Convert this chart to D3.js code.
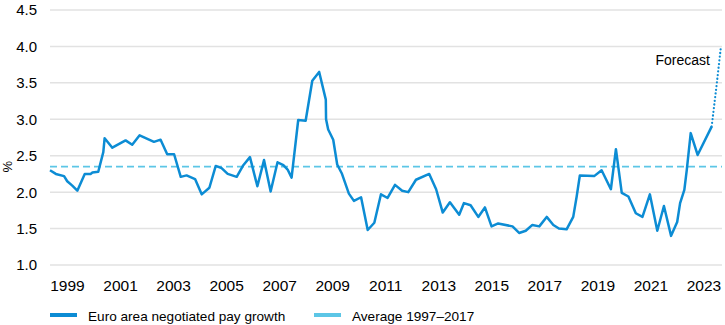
<!DOCTYPE html>
<html>
<head>
<meta charset="utf-8">
<script src="https://cdn.jsdelivr.net/npm/d3@7"></script>
<style>
  body { margin: 0; background: #fff; }
  svg text { font-family: "Liberation Sans", Arial, sans-serif; fill: #000; }
</style>
</head>
<body>
<div id="chart"></div>
<script>
// negotiated pay growth, decimal year / % y-o-y
const dates = [
  1998.34, 1998.56, 1998.87, 1998.99, 1999.18, 1999.37, 1999.65, 1999.87, 1999.94, 2000.16,
  2000.35, 2000.40, 2000.69, 2001.19, 2001.44, 2001.72, 2002.26, 2002.51, 2002.76, 2003.02,
  2003.27, 2003.49, 2003.81, 2004.06, 2004.35, 2004.59, 2004.81, 2005.04, 2005.38, 2005.63,
  2005.88, 2006.16, 2006.41, 2006.66, 2006.92, 2007.14, 2007.30, 2007.45, 2007.70, 2007.98,
  2008.23, 2008.49, 2008.74, 2008.75, 2008.83, 2009.02, 2009.17, 2009.34, 2009.61, 2009.80,
  2010.07, 2010.32, 2010.57, 2010.82, 2011.07, 2011.35, 2011.62, 2011.85, 2012.14, 2012.64,
  2012.90, 2013.15, 2013.42, 2013.77, 2013.95, 2014.20, 2014.49, 2014.74, 2014.99, 2015.24,
  2015.78, 2016.03, 2016.28, 2016.53, 2016.79, 2017.07, 2017.32, 2017.53, 2017.82, 2018.07,
  2018.20, 2018.32, 2018.86, 2019.14, 2019.49, 2019.68, 2019.90, 2020.15, 2020.43, 2020.68,
  2020.96, 2021.24, 2021.49, 2021.76, 2021.99, 2022.10, 2022.26, 2022.35, 2022.50, 2022.76,
  2023.29
];
const payGrowth = [
  2.30, 2.25, 2.22, 2.15, 2.09, 2.02, 2.25, 2.25, 2.27, 2.28,
  2.55, 2.74, 2.61, 2.71, 2.65, 2.78, 2.69, 2.72, 2.52, 2.52,
  2.21, 2.23, 2.18, 1.97, 2.06, 2.36, 2.33, 2.25, 2.21, 2.37,
  2.48, 2.08, 2.44, 2.01, 2.41, 2.37, 2.31, 2.20, 2.99, 2.98,
  3.53, 3.65, 3.27, 3.00, 2.86, 2.72, 2.38, 2.26, 1.98, 1.88,
  1.93, 1.48, 1.58, 1.97, 1.92, 2.10, 2.02, 2.00, 2.17, 2.25,
  2.04, 1.72, 1.86, 1.69, 1.85, 1.82, 1.66, 1.79, 1.53, 1.57,
  1.53, 1.44, 1.47, 1.55, 1.53, 1.66, 1.55, 1.50, 1.49, 1.66,
  1.94, 2.23, 2.22, 2.30, 2.04, 2.59, 1.99, 1.94, 1.71, 1.66,
  1.97, 1.47, 1.81, 1.40, 1.59, 1.85, 2.03, 2.30, 2.81, 2.51,
  2.90
];

// forecast path starts from the last observed quarter
const forecastDates = [2023.29, 2023.47, 2023.64];
const forecastValues = [2.90, 3.45, 4.00];

const average = 2.35;
const yTicks = [1.0, 1.5, 2.0, 2.5, 3.0, 3.5, 4.0, 4.5];
const xTicks = [1999, 2001, 2003, 2005, 2007, 2009, 2011, 2013, 2015, 2017, 2019, 2021, 2023];
const legendLabels = ["Euro area negotiated pay growth", "Average 1997\u20132017"];

const width = 725, height = 325;
const plotLeft = 50, plotRight = 722, plotTop = 10, plotBottom = 265;
const lineBlue = "#0c8cd4";
const avgBlue = "#5cc6e6";

const svg = d3.select("#chart").append("svg")
  .attr("width", width)
  .attr("height", height);

const x = d3.scaleLinear().domain([1998.34, 2023.68]).range([plotLeft, plotRight]);
const y = d3.scaleLinear().domain([1.0, 4.5]).range([plotBottom, plotTop]);

// horizontal gridlines + y labels
svg.append("g")
  .selectAll("line")
  .data(yTicks)
  .join("line")
  .attr("x1", plotLeft)
  .attr("x2", plotRight)
  .attr("y1", d => y(d))
  .attr("y2", d => y(d))
  .attr("stroke", "#e2e2e2")
  .attr("stroke-width", 1.5);

svg.append("g")
  .selectAll("text")
  .data(yTicks)
  .join("text")
  .attr("x", 37)
  .attr("y", d => y(d))
  .attr("dy", "0.36em")
  .attr("text-anchor", "end")
  .style("font-size", "15px")
  .text(d => d.toFixed(1));

svg.append("text")
  .attr("transform", "translate(12," + y(average) + ") rotate(-90)")
  .attr("text-anchor", "middle")
  .style("font-size", "13px")
  .text("%");

// year labels
svg.append("g")
  .selectAll("text")
  .data(xTicks)
  .join("text")
  .attr("x", d => x(d))
  .attr("y", 291)
  .attr("text-anchor", "middle")
  .style("font-size", "15.5px")
  .text(d => d);

// long-run average
svg.append("line")
  .attr("x1", plotLeft)
  .attr("x2", plotRight)
  .attr("y1", y(average))
  .attr("y2", y(average))
  .attr("stroke", avgBlue)
  .attr("stroke-width", 1.8)
  .attr("stroke-dasharray", "7,4");

const line = d3.line()
  .x(d => x(d[0]))
  .y(d => y(d[1]));

svg.append("path")
  .attr("d", line(d3.zip(dates, payGrowth)))
  .attr("fill", "none")
  .attr("stroke", lineBlue)
  .attr("stroke-width", 2.5)
  .attr("stroke-linejoin", "round");

svg.append("path")
  .attr("d", line(d3.zip(forecastDates, forecastValues)))
  .attr("fill", "none")
  .attr("stroke", lineBlue)
  .attr("stroke-width", 2.2)
  .attr("stroke-linecap", "round")
  .attr("stroke-dasharray", "0.1,3.6");

svg.append("text")
  .attr("x", 710)
  .attr("y", 65)
  .attr("text-anchor", "end")
  .style("font-size", "14px")
  .text("Forecast");

// legend
const legend = svg.append("g");
legend.append("line")
  .attr("x1", 50).attr("x2", 77)
  .attr("y1", 315).attr("y2", 315)
  .attr("stroke", lineBlue)
  .attr("stroke-width", 4);
legend.append("text")
  .attr("x", 88)
  .attr("y", 320.5)
  .style("font-size", "13.6px")
  .text(legendLabels[0]);
legend.append("line")
  .attr("x1", 314).attr("x2", 341)
  .attr("y1", 315).attr("y2", 315)
  .attr("stroke", avgBlue)
  .attr("stroke-width", 4);
legend.append("text")
  .attr("x", 352)
  .attr("y", 320.5)
  .style("font-size", "13.6px")
  .text(legendLabels[1]);
</script>
</body>
</html>
